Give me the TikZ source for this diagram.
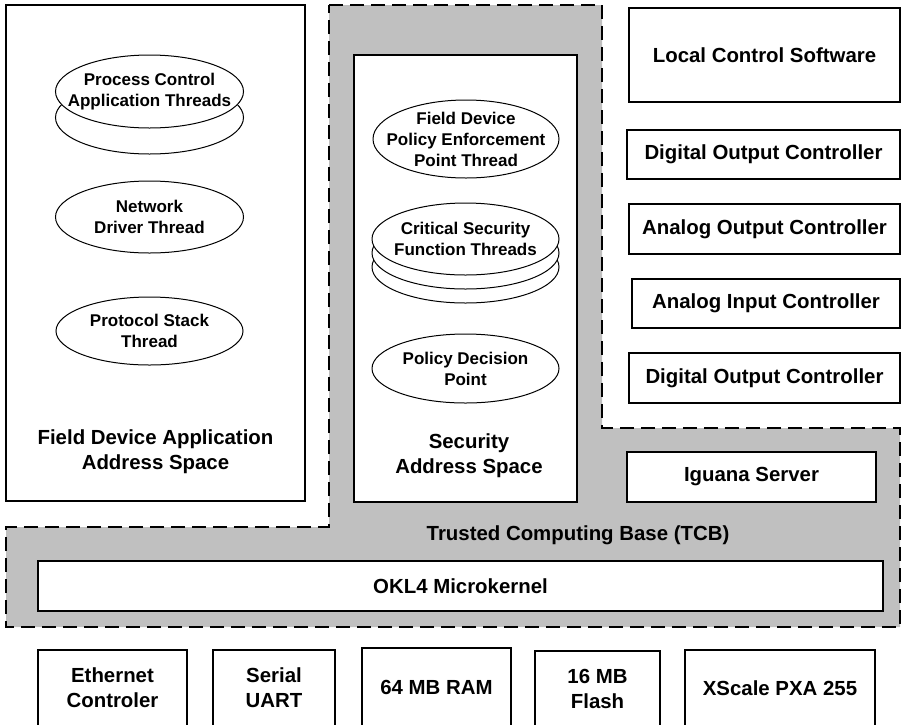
\documentclass[tikz,border=0pt]{standalone}
\usepackage{fontspec}
\setmainfont{Liberation Sans}
\usetikzlibrary{shapes.geometric}
\newcommand\boxfont{\bfseries\fontsize{20.4}{25}\selectfont}
\newcommand\thrfont{\bfseries\fontsize{17}{21}\selectfont}
\definecolor{tcbgray}{RGB}{192,192,192}
\tikzset{
  box/.style={draw, line width=1.6pt, fill=white, inner sep=0pt, align=center, font=\boxfont, rectangle},
  thr/.style={ellipse, draw, line width=1pt, fill=white, inner sep=0pt, minimum width=187pt, minimum height=72pt},
  thrtext/.style={inner sep=0pt, align=center, font=\thrfont},
  lbl/.style={inner sep=0pt, align=center, font=\boxfont},
  tcbline/.style={line width=2pt, dash pattern=on 14pt off 7pt}
}
\begin{document}
\begin{tikzpicture}[x=1pt,y=-1pt]
\useasboundingbox (0,0) rectangle (902,724);
% TCB region
\coordinate (t1) at (329,5);
\coordinate (t2) at (602,5);
\coordinate (t3) at (602,428);
\coordinate (t4) at (900,428);
\coordinate (t5) at (900,627);
\coordinate (t6) at (6,627);
\coordinate (t7) at (6,527);
\coordinate (t8) at (329,527);
\fill[tcbgray] (t1) -- (t2) -- (t3) -- (t4) -- (t5) -- (t6) -- (t7) -- (t8) -- cycle;
\draw[tcbline] (t1) -- (t2) -- (t3) -- (t4) -- (t5) -- (t6) -- (t7) -- (t8) -- cycle;

% Field device application address space
\node[box, minimum width=299pt, minimum height=496pt] (fdas) at (155.5,253) {};
\node[lbl] (fdlabel) at (155.5,452) {Field Device Application\\Address Space};
\node[thr, minimum width=188pt, minimum height=73pt] (pc2) at (149.5,117.5) {};
\node[thr, minimum width=188pt, minimum height=73pt] (pc) at (149.5,91.5) {};
\node[thrtext] (pctext) at (pc.center) {Process Control\\Application Threads};
\node[thr, minimum width=188pt, minimum height=72pt] (nd) at (149.5,217) {};
\node[thrtext] (ndtext) at (nd.center) {Network\\Driver Thread};
\node[thr, minimum width=187pt, minimum height=68pt] (ps) at (149.5,331) {};
\node[thrtext] (pstext) at (ps.center) {Protocol Stack\\Thread};

% Security address space
\node[box, minimum width=223pt, minimum height=447pt] (secas) at (465.5,278.5) {};
\node[lbl] (seclabel) at (469,456) {Security\\Address Space};
\node[thr, minimum width=186pt, minimum height=78pt] (pep) at (466,139) {};
\node[thrtext] (peptext) at (pep.center) {Field Device\\Policy Enforcement\\Point Thread};
\node[thr] (csf3) at (465.5,267) {};
\node[thr] (csf2) at (465.5,253) {};
\node[thr] (csf) at (465.5,239) {};
\node[thrtext] (csftext) at (csf.center) {Critical Security\\Function Threads};
\node[thr, minimum height=69pt] (pdp) at (465.5,368.5) {};
\node[thrtext] (pdptext) at (pdp.center) {Policy Decision\\Point};

% Right column
\node[box, minimum width=271pt, minimum height=94pt] (lcs) at (764.5,55) {Local Control Software};
\node[box, minimum width=273pt, minimum height=49pt] (doc1) at (763.5,154.5) {Digital Output Controller};
\node[box, minimum width=271pt, minimum height=50pt] (aoc) at (764.5,229) {Analog Output Controller};
\node[box, minimum width=268pt, minimum height=49pt] (aic) at (766,303.5) {Analog Input Controller};
\node[box, minimum width=271pt, minimum height=50pt] (doc2) at (764.5,378) {Digital Output Controller};

% TCB internals
\node[box, minimum width=249pt, minimum height=50pt] (iguana) at (751.5,477) {Iguana Server};
\node[lbl] (tcblabel) at (578,535) {Trusted Computing Base (TCB)};
\node[box, minimum width=845pt, minimum height=50pt] (okl4) at (460.5,586) {OKL4 Microkernel};

% Hardware
\node[box, minimum width=149pt, minimum height=76pt] (eth) at (112.5,688) {Ethernet\\Controler};
\node[box, minimum width=122pt, minimum height=76pt] (uart) at (274,688) {Serial\\UART};
\node[box, minimum width=149pt, minimum height=78pt] (ram) at (436.5,687) {64 MB RAM};
\node[box, minimum width=125pt, minimum height=75pt] (flash) at (597.5,688.5) {16 MB\\Flash};
\node[box, minimum width=190pt, minimum height=76pt] (xscale) at (780,688) {XScale PXA 255};
\end{tikzpicture}
\end{document}
